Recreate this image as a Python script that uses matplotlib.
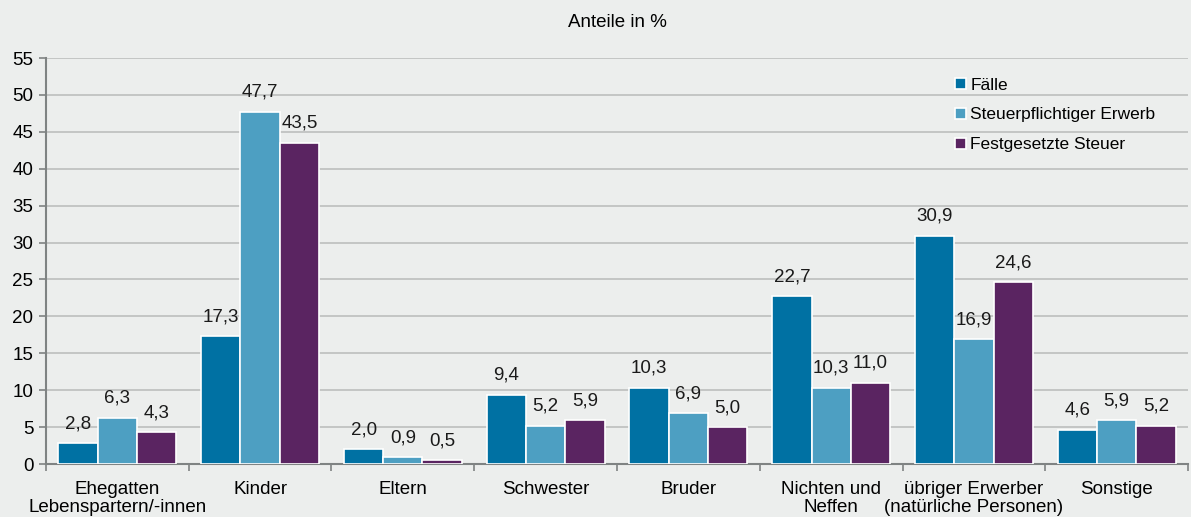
import numpy as np
import matplotlib.pyplot as plt

plt.rcParams['font.family'] = ['Liberation Sans', 'DejaVu Sans']

categories = ['Ehegatten\nLebenspartern/-innen', 'Kinder', 'Eltern', 'Schwester',
              'Bruder', 'Nichten und\nNeffen', 'übriger Erwerber\n(natürliche Personen)', 'Sonstige']
faelle = [2.8, 17.3, 2.0, 9.4, 10.3, 22.7, 30.9, 4.6]
erwerb = [6.3, 47.7, 0.9, 5.2, 6.9, 10.3, 16.9, 5.9]
steuer = [4.3, 43.5, 0.5, 5.9, 5.0, 11.0, 24.6, 5.2]
series = [('Fälle', faelle, '#0071a3'),
          ('Steuerpflichtiger Erwerb', erwerb, '#4d9fc2'),
          ('Festgesetzte Steuer', steuer, '#5a2461')]

bg = '#eceeed'
fig = plt.figure(figsize=(11.91, 5.17), dpi=100, facecolor=bg)
ax = fig.add_axes([0.0386, 0.1025, 0.9589, 0.7853], facecolor=bg)

x = np.arange(len(categories))
w = 0.275
for i, (name, vals, col) in enumerate(series):
    pos = x + (i - 1) * w
    ax.bar(pos, vals, w, color=col, edgecolor='white', linewidth=1.2, label=name, zorder=3)
    for p, v in zip(pos, vals):
        ax.text(p, v + 1.5, f'{v:.1f}'.replace('.', ','), ha='center', va='bottom',
                fontsize=13.5, color='#1a1a1a', zorder=4)

ax.set_xlim(-0.5, len(categories) - 0.5)
ax.set_ylim(0, 55)
ax.set_yticks(range(0, 56, 5))
ax.grid(axis='y', color='#bcbebe', linewidth=1.2, zorder=0)
ax.set_xticks(x)
ax.set_xticklabels(categories, fontsize=13.5, linespacing=1.1)
ax.set_xticks(np.arange(-0.5, len(categories)), minor=True)
ax.tick_params(axis='x', which='major', length=0, pad=12)
ax.tick_params(axis='x', which='minor', length=5, width=1.2, color='#7f8383')
ax.tick_params(axis='y', length=5, width=1.2, color='#7f8383', labelsize=13.5, pad=4)
for s in ['top', 'right']:
    ax.spines[s].set_visible(False)
for s in ['left', 'bottom']:
    ax.spines[s].set_color('#7f8383')
    ax.spines[s].set_linewidth(1.5)

ax.set_title('Anteile in %', fontsize=13.5, pad=22)
ax.legend(loc='upper right', bbox_to_anchor=(0.985, 0.99), frameon=False, fontsize=12.5,
          handlelength=0.6, handleheight=0.6, handletextpad=0.25, labelspacing=0.85)

fig.savefig('out.png', dpi=100, facecolor=bg)
